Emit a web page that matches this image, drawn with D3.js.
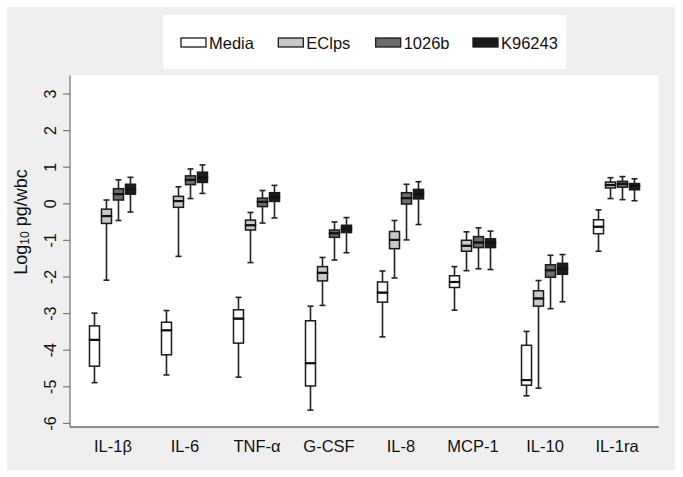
<!DOCTYPE html>
<html><head><meta charset="utf-8">
<script src="https://cdn.jsdelivr.net/npm/d3@7"></script>
<style>
html,body{margin:0;padding:0;background:#fff;}
text{font-family:"Liberation Sans",Arial,Helvetica,sans-serif;fill:#111;}
</style></head>
<body><svg id="chart" width="683" height="477"></svg>
<script>
// Categories and series
const categories = ["IL-1β","IL-6","TNF-α","G-CSF","IL-8","MCP-1","IL-10","IL-1ra"];
const seriesNames = ["Media","EClps","1026b","K96243"];
const seriesColors = ["#ffffff","#c8c8c8","#6c6c6c","#1c1c1c"];
const yTicks = [3,2,1,0,-1,-2,-3,-4,-5,-6];

// Each entry: [lower whisker, Q1, median, Q3, upper whisker] (log10 pg/wbc)
const media = [
  [-4.90,-4.45,-3.73,-3.35,-3.00],
  [-4.69,-4.14,-3.47,-3.25,-2.93],
  [-4.75,-3.82,-3.15,-2.91,-2.57],
  [-5.65,-4.99,-4.37,-3.21,-2.81],
  [-3.65,-2.70,-2.44,-2.15,-1.85],
  [-2.92,-2.30,-2.15,-1.98,-1.73],
  [-5.26,-4.97,-4.83,-3.88,-3.50],
  [-1.31,-0.83,-0.64,-0.45,-0.18]
];
const eclps = [
  [-2.10,-0.55,-0.35,-0.16,0.09],
  [-1.45,-0.11,0.06,0.19,0.45],
  [-1.62,-0.73,-0.60,-0.46,-0.25],
  [-2.79,-2.12,-1.90,-1.73,-1.48],
  [-2.04,-1.24,-1.00,-0.77,-0.47],
  [-1.84,-1.31,-1.16,-1.01,-0.78],
  [-5.05,-2.81,-2.60,-2.39,-2.11],
  [0.13,0.42,0.50,0.58,0.70]
];
const s1026b = [
  [-0.47,0.09,0.25,0.40,0.64],
  [0.13,0.51,0.64,0.75,0.94],
  [-0.54,-0.09,0.04,0.14,0.35],
  [-1.55,-0.93,-0.82,-0.73,-0.51],
  [-1.00,-0.02,0.14,0.29,0.52],
  [-1.79,-1.21,-1.07,-0.91,-0.67],
  [-2.88,-2.02,-1.83,-1.68,-1.42],
  [0.10,0.44,0.53,0.60,0.73]
];
const k96243 = [
  [-0.24,0.25,0.38,0.52,0.71],
  [0.27,0.57,0.71,0.85,1.05],
  [-0.40,0.05,0.17,0.29,0.49],
  [-1.35,-0.80,-0.69,-0.60,-0.39],
  [-0.58,0.12,0.25,0.38,0.59],
  [-1.81,-1.21,-1.08,-0.97,-0.76],
  [-2.69,-1.94,-1.79,-1.64,-1.40],
  [0.07,0.37,0.48,0.54,0.67]
];
const seriesData = [media, eclps, s1026b, k96243];

const svg = d3.select("#chart");
const plot = {left:70, right:659, top:75.5, bottom:427};

// backgrounds
svg.append("rect").attr("x",7).attr("y",7).attr("width",668).attr("height",463).attr("fill","#efefef");
svg.append("rect").attr("x",plot.left).attr("y",plot.top).attr("width",plot.right-plot.left).attr("height",plot.bottom-plot.top).attr("fill","#fff");

const x = d3.scalePoint().domain(categories).range([plot.left, plot.right]).padding(0.59);
const xs = d3.scaleBand().domain(seriesNames).range([-24,24]);
const y = d3.scaleLinear().domain([-6,3]).range([422.9,93.5]);

// y axis
const yAxis = d3.axisLeft(y).tickValues(yTicks).tickSize(7).tickFormat(d3.format("d"));
const gy = svg.append("g").attr("transform",`translate(${plot.left},0)`).call(yAxis);
gy.select(".domain").attr("d",`M0,${plot.top}V${plot.bottom}`).attr("stroke","#7a7a7a").attr("stroke-width",1.3);
gy.selectAll(".tick line").attr("stroke","#7a7a7a").attr("stroke-width",1.2);
gy.selectAll(".tick text").attr("font-size",16).attr("x",0).attr("dy",null)
  .attr("text-anchor","middle").attr("dominant-baseline","central")
  .attr("transform","translate(-20,0) rotate(-90)")
  .text(d => d < 0 ? "-" + Math.abs(d) : d);

// x axis
const xAxis = d3.axisBottom(x).tickSize(0).tickPadding(13);
const gx = svg.append("g").attr("transform",`translate(0,${plot.bottom})`).call(xAxis);
gx.select(".domain").attr("d",`M${plot.left},0H${plot.right}`).attr("stroke","#6a6a6a").attr("stroke-width",1.3);
gx.selectAll(".tick text").attr("font-size",16.5);

// y title
svg.append("text").attr("transform","translate(21,222) rotate(-90)").attr("text-anchor","middle")
  .attr("font-size",18).attr("dominant-baseline","central")
  .call(t => {
    t.append("tspan").text("Log");
    t.append("tspan").attr("font-size",12).attr("dy",4).text("10");
    t.append("tspan").attr("dy",-4).text(" pg/wbc");
  });

// boxes
const bw = 10, cap = 6;
seriesNames.forEach((s, si) => {
  const g = svg.append("g");
  const cx = (i) => x(categories[i]) + xs(s) + xs.bandwidth()/2;
  const data = seriesData[si].map((d,i)=>({i, d}));
  const grp = g.selectAll("g").data(data).join("g");
  grp.append("line").attr("x1",d=>cx(d.i)).attr("x2",d=>cx(d.i))
    .attr("y1",d=>y(d.d[0])).attr("y2",d=>y(d.d[1])).attr("stroke","#222").attr("stroke-width",1.6);
  grp.append("line").attr("x1",d=>cx(d.i)).attr("x2",d=>cx(d.i))
    .attr("y1",d=>y(d.d[3])).attr("y2",d=>y(d.d[4])).attr("stroke","#222").attr("stroke-width",1.6);
  [0,4].forEach(k=>{
    grp.append("line").attr("x1",d=>cx(d.i)-cap/2).attr("x2",d=>cx(d.i)+cap/2)
      .attr("y1",d=>y(d.d[k])).attr("y2",d=>y(d.d[k])).attr("stroke","#222").attr("stroke-width",1.6);
  });
  grp.append("rect").attr("x",d=>cx(d.i)-bw/2).attr("width",bw)
    .attr("y",d=>y(d.d[2])).attr("height",d=>y(d.d[1])-y(d.d[2]))
    .attr("fill",seriesColors[si]).attr("stroke","#1a1a1a").attr("stroke-width",1.5);
  grp.append("rect").attr("x",d=>cx(d.i)-bw/2).attr("width",bw)
    .attr("y",d=>y(d.d[3])).attr("height",d=>y(d.d[2])-y(d.d[3]))
    .attr("fill",seriesColors[si]).attr("stroke","#1a1a1a").attr("stroke-width",1.5);
  grp.append("line").attr("x1",d=>cx(d.i)-bw/2).attr("x2",d=>cx(d.i)+bw/2)
    .attr("y1",d=>y(d.d[2])).attr("y2",d=>y(d.d[2])).attr("stroke","#111").attr("stroke-width",2.2);
});

// legend
svg.append("rect").attr("x",163).attr("y",15).attr("width",403).attr("height",54).attr("fill","#fff");
const lx = d3.scalePoint().domain(seriesNames).range([181,473]);
const lg = svg.append("g").selectAll("g").data(seriesNames).join("g")
  .attr("transform",d=>`translate(${lx(d)},38)`);
lg.append("rect").attr("width",25).attr("height",9).attr("fill",(d,i)=>seriesColors[i])
  .attr("stroke","#1a1a1a").attr("stroke-width",1.3);
lg.append("text").attr("x",28).attr("y",4.5).attr("dominant-baseline","central")
  .attr("font-size",16.5).text(d=>d);
</script></body></html>
